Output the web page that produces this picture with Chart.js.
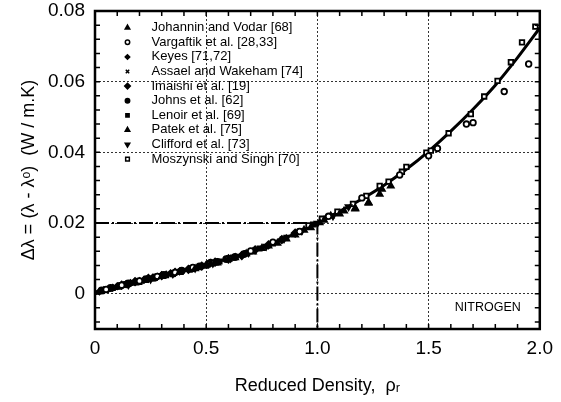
<!DOCTYPE html>
<html>
<head>
<meta charset="utf-8">
<script src="https://cdn.jsdelivr.net/npm/chart.js@4.4.1/dist/chart.umd.min.js"></script>
<style>
html, body { margin: 0; padding: 0; background: #fff; }
#wrap { width: 561px; height: 402px; position: relative; }
</style>
</head>
<body>
<div id="wrap"><canvas id="chart"></canvas></div>
<script>
// axis ticks
const xTickValues = [0, 0.5, 1.0, 1.5, 2.0];
const xTickLabels = ['0', '0.5', '1.0', '1.5', '2.0'];
const yTickValues = [0, 0.02, 0.04, 0.06, 0.08];
const yTickLabels = ['0', '0.02', '0.04', '0.06', '0.08'];

// correlation curve
const curveX = [0, 0.1, 0.2, 0.3, 0.4, 0.5, 0.6, 0.7, 0.8, 0.9, 1.0, 1.1, 1.2, 1.3, 1.4, 1.5, 1.6, 1.7, 1.8, 1.9, 2.0];
const curveY = [0, 0.0015, 0.0031, 0.0047, 0.0064, 0.0081, 0.0099, 0.0120, 0.0143, 0.0170, 0.0200, 0.0233, 0.0268, 0.0307, 0.0352, 0.0403, 0.0460, 0.0522, 0.0590, 0.0668, 0.0752];

// reference line rho_r = 1 -> 0.02
const refX = [0, 1.0, 1.0];
const refY = [0.02, 0.02, -0.01];

// measurements
const johanninX = [0.30, 0.38, 0.45, 0.52, 0.60, 0.68, 0.75, 0.82, 0.90, 0.97, 1.03, 1.10, 1.17, 1.23, 1.29];
const johanninY = [0.0049, 0.0060, 0.0071, 0.0085, 0.0098, 0.0113, 0.0128, 0.0143, 0.0166, 0.0187, 0.0208, 0.0226, 0.0242, 0.0258, 0.0296];

const vargaftikX = [0.05, 0.12, 0.20, 0.28, 0.36, 0.44, 0.52, 0.60, 0.70, 0.80, 0.92, 1.05, 1.20, 1.37, 1.50, 1.54, 1.67, 1.70, 1.84, 1.95];
const vargaftikY = [0.0012, 0.0024, 0.0036, 0.0049, 0.0060, 0.0074, 0.0088, 0.0100, 0.0121, 0.0146, 0.0176, 0.0219, 0.0271, 0.0336, 0.0390, 0.0411, 0.0480, 0.0484, 0.0572, 0.0650];

const keyesX = [0.02, 0.04, 0.06, 0.08, 0.10, 0.12, 0.14, 0.16, 0.18, 0.20, 0.22, 0.24, 0.26, 0.28, 0.30, 0.32, 0.34, 0.36, 0.38];
const keyesY = [0.0006, 0.0010, 0.0013, 0.0017, 0.0021, 0.0023, 0.0027, 0.0030, 0.0034, 0.0036, 0.0039, 0.0043, 0.0046, 0.0048, 0.0052, 0.0054, 0.0058, 0.0060, 0.0063];

const assaelX = [0.01, 0.03, 0.05, 0.07, 0.09, 0.11, 0.13, 0.15, 0.17, 0.19, 0.21, 0.23, 0.25, 0.27, 0.29];
const assaelY = [0.0004, 0.0008, 0.0012, 0.0014, 0.0019, 0.0021, 0.0025, 0.0028, 0.0031, 0.0034, 0.0038, 0.0041, 0.0043, 0.0047, 0.0050];

const imaishiX = [0.12, 0.18, 0.24, 0.30, 0.36, 0.42, 0.48, 0.54, 0.60, 0.66, 0.72, 0.78, 0.84, 0.90];
const imaishiY = [0.0024, 0.0034, 0.0043, 0.0051, 0.0060, 0.0069, 0.0078, 0.0089, 0.0098, 0.0108, 0.0124, 0.0138, 0.0153, 0.0171];

const johnsX = [0.03, 0.07, 0.11, 0.15, 0.19, 0.23, 0.27, 0.31, 0.35, 0.39, 0.43, 0.47, 0.51, 0.55, 0.59, 0.63, 0.67];
const johnsY = [0.0009, 0.0016, 0.0022, 0.0029, 0.0034, 0.0041, 0.0046, 0.0053, 0.0057, 0.0065, 0.0070, 0.0077, 0.0084, 0.0090, 0.0098, 0.0104, 0.0112];

const lenoirX = [0.08, 0.14, 0.20, 0.26, 0.32, 0.38, 0.44, 0.50, 0.56, 0.62, 0.68, 0.74, 0.80, 0.86, 0.92, 0.98];
const lenoirY = [0.0016, 0.0027, 0.0033, 0.0043, 0.0052, 0.0062, 0.0070, 0.0079, 0.0091, 0.0102, 0.0114, 0.0128, 0.0142, 0.0158, 0.0175, 0.0196];

const patekX = [0.55, 0.63, 0.71, 0.78, 0.86, 0.94, 1.01, 1.06, 1.12, 1.17, 1.23, 1.28, 1.33];
const patekY = [0.0087, 0.0102, 0.0118, 0.0135, 0.0155, 0.0180, 0.0201, 0.0220, 0.0234, 0.0240, 0.0256, 0.0282, 0.0305];

const cliffordX = [0.15, 0.25, 0.35, 0.45, 0.53, 0.61, 0.69, 0.77, 0.85, 0.93, 1.00, 1.07, 1.14];
const cliffordY = [0.0025, 0.0041, 0.0056, 0.0072, 0.0086, 0.0100, 0.0116, 0.0134, 0.0155, 0.0178, 0.0199, 0.0220, 0.0246];

const moszynskiX = [0.96, 1.02, 1.09, 1.16, 1.22, 1.28, 1.32, 1.38, 1.40, 1.49, 1.51, 1.59, 1.69, 1.75, 1.81, 1.87, 1.92, 1.98];
const moszynskiY = [0.0193, 0.0212, 0.0232, 0.0254, 0.0277, 0.0305, 0.0317, 0.0345, 0.0359, 0.0399, 0.0405, 0.0454, 0.0508, 0.0558, 0.0602, 0.0655, 0.0711, 0.0756];

function pts(xs, ys) {
    return xs.map((x, i) => ({ x: x, y: ys[i] }));
}

// marker series, in legend order (r = plot size, lr = legend size)
const series = [
    { label: 'Johannin and Vodar [68]', xs: johanninX, ys: johanninY, style: 'triangle', r: 3.4, lr: 2.6, rot: 0, fill: '#000' },
    { label: 'Vargaftik et al. [28,33]', xs: vargaftikX, ys: vargaftikY, style: 'circle', r: 2.8, lr: 2.2, rot: 0, fill: '#fff' },
    { label: 'Keyes [71,72]', xs: keyesX, ys: keyesY, style: 'rectRot', r: 3, lr: 2.2, rot: 0, fill: '#000' },
    { label: 'Assael and Wakeham [74]', xs: assaelX, ys: assaelY, style: 'crossRot', r: 3, lr: 2.4, rot: 0, fill: '#000' },
    { label: 'Imaishi et al. [19]', xs: imaishiX, ys: imaishiY, style: 'rectRot', r: 3.6, lr: 2.8, rot: 0, fill: '#000' },
    { label: 'Johns et al. [62]', xs: johnsX, ys: johnsY, style: 'circle', r: 3, lr: 2.2, rot: 0, fill: '#000' },
    { label: 'Lenoir et al. [69]', xs: lenoirX, ys: lenoirY, style: 'rect', r: 3, lr: 2.3, rot: 0, fill: '#000' },
    { label: 'Patek et al. [75]', xs: patekX, ys: patekY, style: 'triangle', r: 3.4, lr: 2.6, rot: 0, fill: '#000' },
    { label: 'Clifford et al. [73]', xs: cliffordX, ys: cliffordY, style: 'triangle', r: 3.4, lr: 2.6, rot: 180, fill: '#000' },
    { label: 'Moszynski and Singh [70]', xs: moszynskiX, ys: moszynskiY, style: 'rect', r: 3.2, lr: 2.6, rot: 0, fill: '#fff' }
];

const datasets = series.map(s => ({
    label: s.label,
    data: pts(s.xs, s.ys),
    showLine: false,
    pointStyle: s.style,
    pointRadius: s.r,
    pointRotation: s.rot,
    pointBackgroundColor: s.fill,
    pointBorderColor: '#000',
    pointBorderWidth: 1.8
}));

datasets.push({
    label: 'ref',
    data: pts(refX, refY),
    showLine: true,
    borderColor: '#000',
    borderWidth: 2,
    borderDash: [14, 3, 2, 3],
    pointRadius: 0
});

datasets.push({
    label: 'curve',
    data: pts(curveX, curveY),
    showLine: true,
    borderColor: '#000',
    borderWidth: 3,
    cubicInterpolationMode: 'monotone',
    pointRadius: 0
});

// frame, inward ticks, legend box and NITROGEN tag
const framePlugin = {
    id: 'frame',
    afterDraw(chart) {
        const ctx = chart.ctx;
        const area = chart.chartArea;
        const xs = chart.scales.x;
        const ys = chart.scales.y;
        ctx.save();
        ctx.strokeStyle = '#000';

        ctx.lineWidth = 1.5;
        ctx.beginPath();
        for (let i = 0; i <= 20; i++) {
            const px = xs.getPixelForValue(i / 10);
            ctx.moveTo(px, area.bottom);
            ctx.lineTo(px, area.bottom - 5);
            ctx.moveTo(px, area.top);
            ctx.lineTo(px, area.top + 5);
        }
        for (let i = -2; i <= 20; i++) {
            const py = ys.getPixelForValue(i * 0.004);
            ctx.moveTo(area.left, py);
            ctx.lineTo(area.left + 5, py);
            ctx.moveTo(area.right, py);
            ctx.lineTo(area.right - 5, py);
        }
        ctx.stroke();

        ctx.lineWidth = 2.5;
        ctx.strokeRect(area.left, area.top, area.right - area.left, area.bottom - area.top);

        // legend
        ctx.font = '13px "Liberation Sans", Arial, sans-serif';
        ctx.textBaseline = 'middle';
        ctx.textAlign = 'left';
        series.forEach((s, i) => {
            const y = 27.7 + i * 14.6;
            ctx.lineWidth = 1.5;
            ctx.fillStyle = s.fill;
            ctx.strokeStyle = '#000';
            Chart.helpers.drawPoint(ctx, {
                pointStyle: s.style,
                radius: s.lr,
                rotation: s.rot,
                borderWidth: 1.5
            }, 127.5, y);
            ctx.fillStyle = '#000';
            ctx.fillText(s.label, 151.5, y);
        });

        ctx.font = '12.5px "Liberation Sans", Arial, sans-serif';
        ctx.textAlign = 'right';
        ctx.fillText('NITROGEN', area.right - 19, 308);
        ctx.restore();
    }
};

const tickFont = { family: '"Liberation Sans", Arial, sans-serif', size: 19 };

new Chart(document.getElementById('chart'), {
    type: 'scatter',
    data: { datasets: datasets },
    options: {
        responsive: true,
        maintainAspectRatio: false,
        animation: false,
        layout: { padding: { left: 0, top: 0, right: 17, bottom: 0 } },
        plugins: {
            legend: { display: false },
            tooltip: { enabled: false }
        },
        scales: {
            x: {
                type: 'linear',
                min: 0,
                max: 2,
                afterBuildTicks: scale => { scale.ticks = xTickValues.map(v => ({ value: v })); },
                afterFit: scale => { scale.height = 73; },
                ticks: {
                    color: '#000',
                    font: tickFont,
                    padding: 8,
                    maxRotation: 0,
                    autoSkip: false,
                    callback: (v, i) => xTickLabels[i]
                },
                grid: {
                    drawTicks: false,
                    lineWidth: 1,
                    color: c => (c.tick && c.tick.value > 0 && c.tick.value < 2) ? '#333' : 'rgba(0,0,0,0)'
                },
                border: { display: false, dash: [2, 2] },
                title: {
                    display: true,
                    text: 'Reduced Density,  ρᵣ',
                    color: '#000',
                    font: { family: '"Liberation Sans", Arial, sans-serif', size: 18 },
                    padding: { top: 2, bottom: 5 }
                }
            },
            y: {
                type: 'linear',
                min: -0.01,
                max: 0.08,
                afterBuildTicks: scale => { scale.ticks = yTickValues.map(v => ({ value: v })); },
                afterFit: scale => {
                    scale.width = 95;
                    scale.paddingTop = 11;
                    scale.paddingBottom = 0;
                },
                ticks: {
                    color: '#000',
                    font: tickFont,
                    padding: 10,
                    autoSkip: false,
                    callback: (v, i) => yTickLabels[i]
                },
                grid: {
                    drawTicks: false,
                    lineWidth: 1,
                    color: c => (c.tick && c.tick.value < 0.07) ? '#333' : 'rgba(0,0,0,0)'
                },
                border: { display: false, dash: [2, 2] },
                title: {
                    display: true,
                    text: 'Δλ = (λ - λᵒ)  (W / m.K)',
                    color: '#000',
                    font: { family: '"Liberation Sans", Arial, sans-serif', size: 18 },
                    padding: { top: 18, bottom: 0 }
                }
            }
        }
    },
    plugins: [framePlugin]
});
</script>
</body>
</html>
